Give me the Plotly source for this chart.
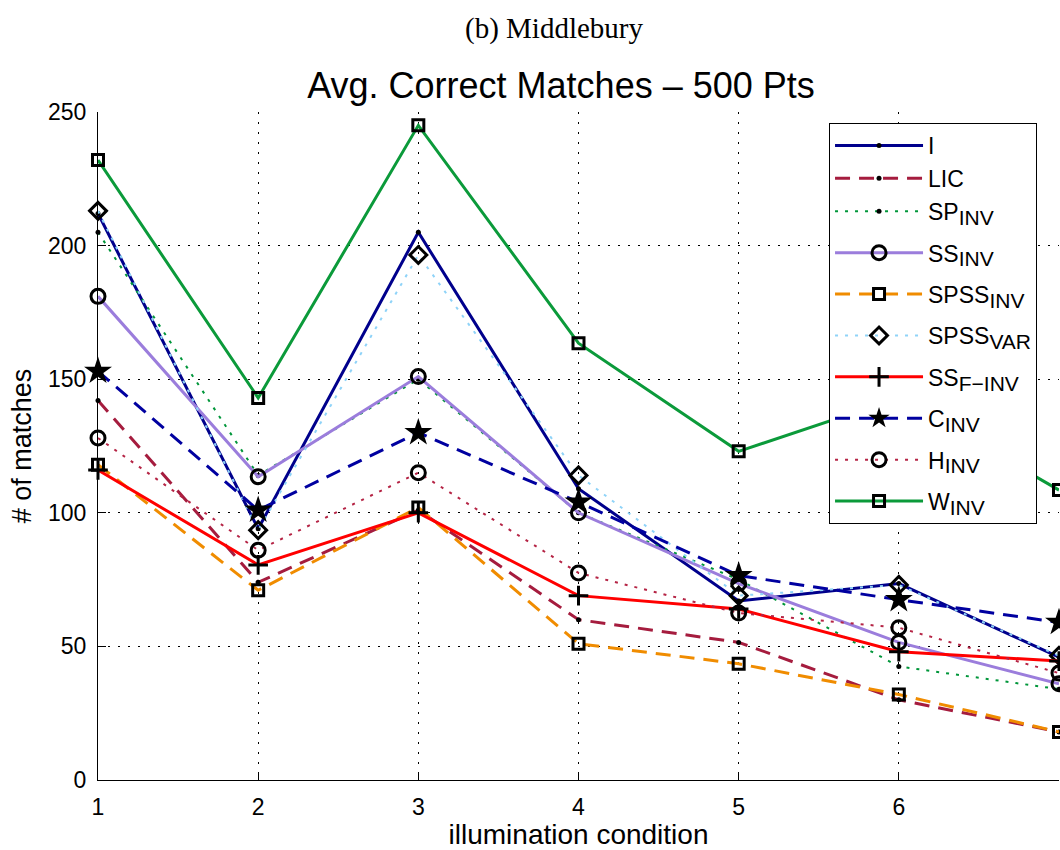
import plotly.graph_objects as go

# Illumination conditions (x) and average correct matches per descriptor
conditions = [1, 2, 3, 4, 5, 6, 7]

i_vals = [212, 94, 205, 109, 67, 73.5, 46]
lic_vals = [142, 74, 101, 60, 51.5, 30, 18]
sp_inv = [205, 114, 150, 100, 75, 42.5, 34]
ss_inv = [181, 113.5, 151, 100, 73.5, 51.5, 36]
spss_inv = [118, 71, 102, 51, 43.5, 32, 18]
spss_var = [213, 93.5, 196.5, 114, 69, 73, 46.5]
ss_f_inv = [116, 80.5, 100, 69, 64, 48, 44.5]
c_inv = [153, 101, 130, 104, 76.5, 67.5, 59]
h_inv = [128, 86, 115, 77.5, 62.5, 57, 40]
w_inv = [232, 143, 245, 163.5, 123, 143, 108.5]

DASH = "15px,9px"
DOT = "3px,7px"


def label(main, sub=None):
    if sub is None:
        return main
    return f'{main}<sub><span style="font-size:21px">{sub}</span></sub>'


# name, values, colour, dash, width, marker symbol, marker size, legend group
series = [
    (label("I"), i_vals, "#00008c", "solid", 3, "circle", 5, "g0"),
    (label("LIC"), lic_vals, "#a51c3e", DASH, 3, "circle", 5, "g0"),
    (label("SP", "INV"), sp_inv, "#00963a", DOT, 2, "circle", 5, "g0"),
    (label("SS", "INV"), ss_inv, "#9b7ddc", "solid", 3, "circle-open", 14, "g2"),
    (label("SPSS", "INV"), spss_inv, "#f08c00", DASH, 3, "square-open", 11, "g3"),
    (label("SPSS", "VAR"), spss_var, "#8fd3f8", DOT, 2, "diamond-open", 13, "g4"),
    (label("SS", "F\u2212INV"), ss_f_inv, "#ff0000", "solid", 3, "cross-thin-open", 14, "g5"),
    (label("C", "INV"), c_inv, "#0000a0", DASH, 3, "star", 21, "g6"),
    (label("H", "INV"), h_inv, "#b52445", DOT, 2, "circle-open", 14, "g7"),
    (label("W", "INV"), w_inv, "#0b9a3a", "solid", 3, "square-open", 11, "g8"),
]

fig = go.Figure()
for name, vals, color, dash, lw, symbol, msize, group in series:
    filled = symbol in ("circle", "star")
    fig.add_trace(go.Scatter(
        x=conditions, y=vals, name=name, mode="lines+markers", legendgroup=group,
        line=dict(color=color, width=lw, dash=dash),
        marker=dict(symbol=symbol, size=msize, color="black",
                    line=dict(color="black", width=0 if filled else 3)),
        cliponaxis=False,
    ))

SANS = "Liberation Sans, Arial, sans-serif"
tick_font = dict(family=SANS, size=23, color="black")

fig.update_layout(
    width=1060, height=850,
    margin=dict(l=98, r=1, t=112, b=70, autoexpand=False),
    paper_bgcolor="white", plot_bgcolor="white",
    font=tick_font,
    showlegend=True,
    title=dict(
        text="Avg. Correct Matches \u2013 500 Pts",
        font=dict(family=SANS, size=36, color="black"),
        x=561 / 1060, xref="container", xanchor="center",
        y=1 - 85 / 850, yref="container", yanchor="middle",
    ),
    legend=dict(
        x=0.7607, y=0.9835, xanchor="left", yanchor="top",
        bgcolor="white", bordercolor="black", borderwidth=1,
        font=dict(family=SANS, size=23, color="black"),
        itemwidth=88, tracegroupgap=8.5, traceorder="grouped",
    ),
    annotations=[dict(
        text="(b) Middlebury", xref="paper", yref="paper",
        x=(554 - 98) / 961, y=(780 - 28) / 668, xanchor="center", yanchor="middle",
        showarrow=False,
        font=dict(family="Liberation Serif, Times New Roman, serif", size=29, color="black"),
    )],
)

fig.update_xaxes(
    range=[1, 7], tickvals=conditions, ticks="inside", ticklen=8, tickcolor="black",
    showline=True, linecolor="black", linewidth=1, mirror=False,
    showgrid=True, gridcolor="black", gridwidth=1, griddash="2px,8px",
    zeroline=False, automargin=False, ticklabelstandoff=6,
    title=dict(text="illumination condition",
               font=dict(family=SANS, size=28, color="black"), standoff=4),
)
fig.update_yaxes(
    range=[0, 250], tickvals=[0, 50, 100, 150, 200, 250], ticks="inside", ticklen=8,
    tickcolor="black",
    showline=True, linecolor="black", linewidth=1, mirror=False,
    showgrid=True, gridcolor="black", gridwidth=1, griddash="2px,8px",
    zeroline=False, automargin=False, ticklabelstandoff=6,
    title=dict(text="# of matches",
               font=dict(family=SANS, size=27, color="black"), standoff=8),
)

fig.write_html("out.html")
